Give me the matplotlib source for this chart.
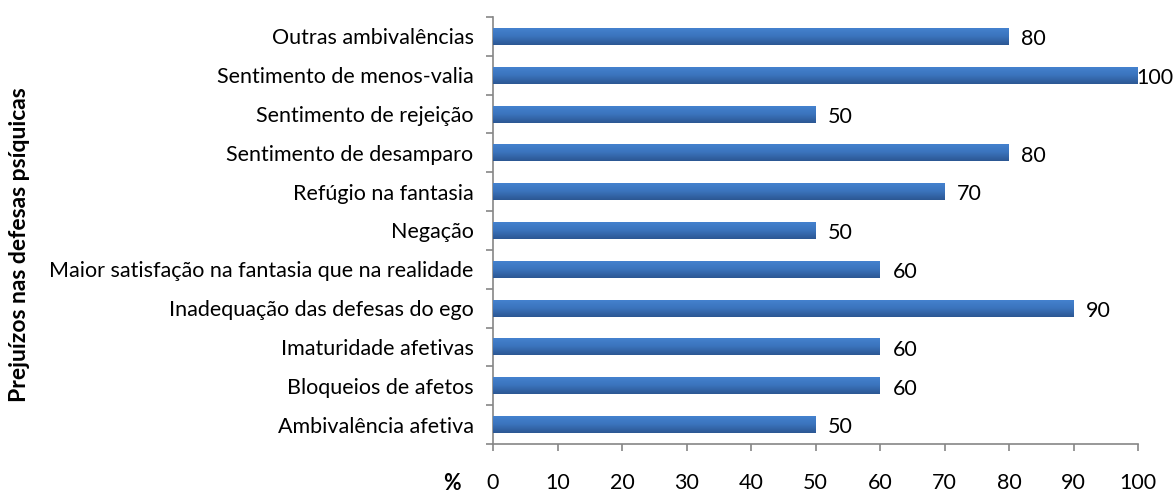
import matplotlib
matplotlib.use("Agg")
import matplotlib.pyplot as plt
import numpy as np
from matplotlib.colors import LinearSegmentedColormap

categories = [
    "Ambivalência afetiva",
    "Bloqueios de afetos",
    "Imaturidade afetivas",
    "Inadequação das defesas do ego",
    "Maior satisfação na fantasia que na realidade",
    "Negação",
    "Refúgio na fantasia",
    "Sentimento de desamparo",
    "Sentimento de rejeição",
    "Sentimento de menos-valia",
    "Outras ambivalências",
]
values = [50, 60, 60, 90, 60, 50, 70, 80, 50, 100, 80]
xticks = [0, 10, 20, 30, 40, 50, 60, 70, 80, 90, 100]

plt.rcParams['font.family'] = ['Lato', 'DejaVu Sans']
fig = plt.figure(figsize=(11.75, 4.95), dpi=100)
ax = fig.add_axes([493/1175, 1-444/495, (1138-493)/1175, (444-17)/495])

FS = 15.5

y = np.arange(len(categories))
bars = ax.barh(y, values, height=0.44, color='#3a6fb8', zorder=2)

cmap = LinearSegmentedColormap.from_list('g', ['#2c5793', '#3b74bd', '#4583d0'])
grad = np.linspace(0, 1, 64).reshape(-1, 1)
for b in bars:
    x0, y0, w, h = b.get_x(), b.get_y(), b.get_width(), b.get_height()
    im = ax.imshow(grad, extent=(x0, x0 + w, y0, y0 + h), origin='lower',
                   cmap=cmap, aspect='auto', zorder=3)
    im.set_clip_path(b)
    b.set_alpha(0)

for yi, v in zip(y, values):
    off = 9 if v < 100 else -1
    ax.annotate(str(v), (v, yi), xytext=(off, -2), textcoords='offset points',
                va='center', ha='left', fontsize=FS, color='#000000', zorder=4)

ax.set_xlim(0, 100)
ax.set_ylim(-0.5, len(categories) - 0.5)
ax.set_xticks(xticks)
ax.set_xticklabels([str(t) for t in xticks], fontsize=FS)
ax.set_yticks(y)
ax.set_yticklabels(categories, fontsize=FS)
ax.set_yticks(np.arange(-0.5, len(categories), 1), minor=True)
ax.tick_params(axis='y', which='major', length=0, pad=14)
ax.tick_params(axis='y', which='minor', length=5, color='#868686', width=1.2)
ax.tick_params(axis='x', which='major', length=5, color='#868686', width=1.2, pad=16)

for s in ['top', 'right']:
    ax.spines[s].set_visible(False)
for s in ['left', 'bottom']:
    ax.spines[s].set_color('#868686')
    ax.spines[s].set_linewidth(1.2)

fig.text(452/1175, 1-484/495, '%', fontsize=FS, fontweight='bold', ha='center', va='center')
fig.text(20/1175, 1-245/495, 'Prejuízos nas defesas psíquicas', fontsize=16.5, fontweight='bold',
         rotation=90, ha='center', va='center')

fig.savefig('out.png', dpi=100)
